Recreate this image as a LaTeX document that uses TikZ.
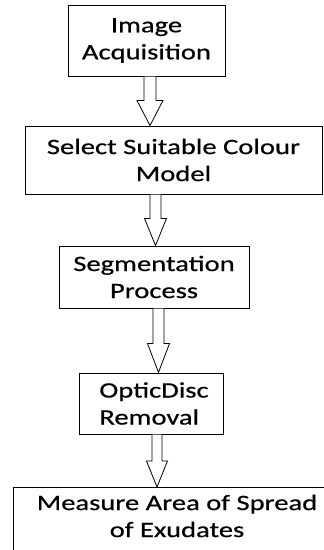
\documentclass[tikz,border=0pt]{standalone}
\usepackage{fontspec}
\setmainfont{Carlito}[FakeStretch=1.3,FakeBold=0.6]
\usetikzlibrary{calc}
\newcommand\blkarrow[5]{%
  \draw[blockarr] ($(#1)+(-#4,0)$) -- ($(#2)+(-#4,-#3)$) -- ($(#2)+(-#5,-#3)$) -- (#2)
    -- ($(#2)+(#5,-#3)$) -- ($(#2)+(#4,-#3)$) -- ($(#1)+(#4,0)$);}
\begin{document}
\begin{tikzpicture}[x=1pt,y=-1pt,
  box/.style={draw, line width=1pt, inner sep=0pt, font=\fontsize{22}{27}\selectfont},
  lbl/.style={inner sep=0pt, font=\fontsize{22}{27}\selectfont},
  blockarr/.style={draw, line width=0.8pt, fill=white, line join=miter}]
\useasboundingbox (0,0) rectangle (324,550);
\clip (0,0) rectangle (324,550);
\node[box, minimum width=157pt, minimum height=71pt, align=center] (b1) at (146.5,40.5) {Image\\Acquisition};
\node[box, minimum width=297pt, minimum height=68pt, align=center] (b2) at (173.5,160) {Select Suitable Colour\\Model\hspace{48pt}};
\node[box, minimum width=190pt, minimum height=62pt, align=center] (b3) at (154,277) {Segmentation\\Process\hspace{8pt}};
\node[box, minimum width=144pt, minimum height=61pt, align=left] (b4) at (151,403.5) {\hspace{6pt}OpticDisc\\\hspace{6pt}Removal};
\node[box, minimum width=340pt, minimum height=90pt, anchor=north west] (b5) at (13,487) {};
\node[lbl, align=center] (t5) at (177,516) {Measure Area of Spread\\of Exudates\hspace{46pt}};
\coordinate (a1s) at ($(b1.south)+(3.5,0)$);
\coordinate (a1e) at (a1s |- b2.north);
\coordinate (a2s) at ($(b2.south)+(-18,0)$);
\coordinate (a2e) at (a2s |- b3.north);
\coordinate (a3s) at ($(b3.south)+(4.5,0)$);
\coordinate (a3e) at (a3s |- b4.north);
\coordinate (a4s) at ($(b4.south)+(6,0)$);
\coordinate (a4e) at (a4s |- b5.north);
\blkarrow{a1s}{a1e}{25}{6}{13}
\blkarrow{a2s}{a2e}{27}{5.5}{11}
\blkarrow{a3s}{a3e}{29}{5.5}{11}
\blkarrow{a4s}{a4e}{26}{5}{10.5}
\end{tikzpicture}
\end{document}
